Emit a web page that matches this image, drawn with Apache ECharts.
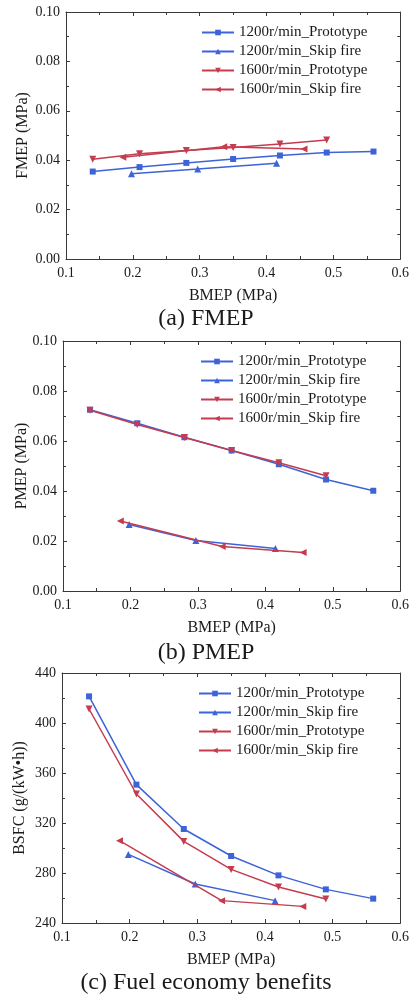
<!DOCTYPE html>
<html>
<head>
<meta charset="utf-8">
<script src="https://cdn.jsdelivr.net/npm/echarts@6/dist/echarts.min.js"></script>
<style>html,body{margin:0;padding:0;background:#fff;}#c{width:412px;height:994px;}</style>
</head>
<body>
<div id="c"></div>
<script>
// ---- data ----
const seriesNames = ['1200r/min_Prototype', '1200r/min_Skip fire', '1600r/min_Prototype', '1600r/min_Skip fire'];
const xTicks = [0.1, 0.2, 0.3, 0.4, 0.5, 0.6];
const fmepTicks = [0.00, 0.02, 0.04, 0.06, 0.08, 0.10];
const pmepTicks = [0.00, 0.02, 0.04, 0.06, 0.08, 0.10];
const bsfcTicks = [240, 280, 320, 360, 400, 440];

const bmepProto1200 = [0.14, 0.21, 0.28, 0.35, 0.42, 0.49, 0.56];
const bmepSkip1200 = [0.198, 0.297, 0.415];
const bmepProto1600 = [0.14, 0.21, 0.28, 0.35, 0.42, 0.49];
const bmepSkip1600 = [0.185, 0.336, 0.456];

const fmepProto1200 = [0.0354, 0.0372, 0.0389, 0.0405, 0.0419, 0.0431, 0.0435];
const fmepSkip1200 = [0.0345, 0.0364, 0.0388];
const fmepProto1600 = [0.0404, 0.0426, 0.0439, 0.0451, 0.0466, 0.0482];
const fmepSkip1600 = [0.0412, 0.0454, 0.0445];

const pmepProto1200 = [0.0725, 0.0671, 0.0615, 0.0562, 0.0507, 0.0446, 0.0401];
const pmepSkip1200 = [0.0266, 0.0202, 0.0170];
const pmepProto1600 = [0.0723, 0.0666, 0.0614, 0.0562, 0.0513, 0.0461];
const pmepSkip1600 = [0.0280, 0.0178, 0.0154];

const bsfcProto1200 = [421.3, 350.7, 315.2, 293.6, 278.1, 266.9, 259.5];
const bsfcSkip1200 = [294.9, 271.2, 257.9];
const bsfcProto1600 = [411.2, 343.2, 305.3, 282.9, 268.8, 259.2];
const bsfcSkip1600 = [305.9, 257.9, 253.3];

const captions = ['(a) FMEP', '(b) PMEP', '(c) Fuel economy benefits'];
const yNames = ['FMEP (MPa)', 'PMEP (MPa)', 'BSFC (g/(kW\u2022h))'];
const xName = 'BMEP (MPa)';

// ---- styling ----
const FONT = '"Liberation Serif", "Times New Roman", serif';
const BLUE = '#3d63d8';
const RED = '#c43c4e';
const AXIS = '#3a3a3a';
const TEXT = '#1a1a1a';

const grids = [
  {left: 66, top: 12, width: 337, height: 247},
  {left: 63, top: 341, width: 342, height: 250},
  {left: 62, top: 673, width: 342, height: 250}
];
const legendPos = [{left: 201, top: 25}, {left: 200, top: 354}, {left: 198, top: 686}];
const captionY = [320, 654, 984];
const yNameGap = [35, 33, 34];
const xNameGap = [29, 29, 29];

const yTickSets = [fmepTicks, pmepTicks, bsfcTicks];
const yFormat = [v => v.toFixed(2), v => v.toFixed(2), v => String(Math.round(v))];

function zip(xs, ys) { return xs.map((x, i) => [x, ys[i]]); }

const xAxes = [], yAxes = [];
grids.forEach((g, gi) => {
  const yt = yTickSets[gi];
  const common = {
    type: 'value', gridIndex: gi, splitLine: {show: false},
    axisLine: {show: true, onZero: false, lineStyle: {color: AXIS, width: 1}},
    axisTick: {show: true, inside: true, length: 4, lineStyle: {color: AXIS}},
    minorTick: {show: true, splitNumber: 2, length: 3, lineStyle: {color: AXIS}},
    splitNumber: 5
  };
  xAxes.push(Object.assign({}, common, {
    position: 'bottom', min: xTicks[0], max: xTicks[xTicks.length - 1], interval: xTicks[1] - xTicks[0],
    axisLabel: {fontFamily: FONT, fontSize: 14, color: TEXT, margin: 7, formatter: v => v.toFixed(1)},
    name: xName, nameLocation: 'middle', nameGap: xNameGap[gi], nameMoveOverlap: false,
    nameTextStyle: {fontFamily: FONT, fontSize: 16, color: TEXT}
  }));
  xAxes.push(Object.assign({}, common, {
    position: 'top', min: xTicks[0], max: xTicks[xTicks.length - 1], interval: xTicks[1] - xTicks[0],
    axisLabel: {show: false}
  }));
  yAxes.push(Object.assign({}, common, {
    position: 'left', min: yt[0], max: yt[yt.length - 1], interval: yt[1] - yt[0],
    axisLabel: {fontFamily: FONT, fontSize: 14, color: TEXT, margin: 6, formatter: yFormat[gi]},
    name: yNames[gi], nameLocation: 'middle', nameGap: yNameGap[gi], nameMoveOverlap: false,
    nameTextStyle: {fontFamily: FONT, fontSize: 16, color: TEXT}
  }));
  yAxes.push(Object.assign({}, common, {
    position: 'right', min: yt[0], max: yt[yt.length - 1], interval: yt[1] - yt[0],
    axisLabel: {show: false}
  }));
});

const panelData = [
  [fmepProto1200, fmepSkip1200, fmepProto1600, fmepSkip1600],
  [pmepProto1200, pmepSkip1200, pmepProto1600, pmepSkip1600],
  [bsfcProto1200, bsfcSkip1200, bsfcProto1600, bsfcSkip1600]
];
const xSets = [bmepProto1200, bmepSkip1200, bmepProto1600, bmepSkip1600];
const colors = [BLUE, BLUE, RED, RED];
const symbols = ['rect', 'triangle', 'triangle', 'triangle'];
const rotates = [0, 0, 180, 90];
const sizes = [6, 7, 7, 7];

const series = [];
panelData.forEach((pd, gi) => {
  pd.forEach((ys, si) => {
    series.push({
      name: seriesNames[si], type: 'line',
      xAxisIndex: gi * 2, yAxisIndex: gi * 2,
      data: zip(xSets[si], ys),
      symbol: symbols[si], symbolRotate: rotates[si], symbolSize: sizes[si],
      showAllSymbol: true,
      lineStyle: {color: colors[si], width: 1.5},
      itemStyle: {color: colors[si]},
      emphasis: {disabled: true},
      animation: false, z: si === 2 || si === 3 ? 3 : 2
    });
  });
});

const legends = legendPos.map(p => ({
  orient: 'vertical', left: p.left, top: p.top, padding: 0,
  data: seriesNames, itemWidth: 32, itemHeight: 7, itemGap: 4,
  textStyle: {fontFamily: FONT, fontSize: 15, color: TEXT},
  selectedMode: false
}));

const graphic = captions.map((c, i) => ({
  type: 'text', left: 'center', top: captionY[i] - 13,
  style: {text: c, font: '24px ' + FONT, fill: TEXT}
}));

const chart = echarts.init(document.getElementById('c'), null, {renderer: 'canvas'});
chart.setOption({
  animation: false,
  backgroundColor: '#fff',
  grid: grids.map(g => Object.assign({containLabel: false}, g)),
  xAxis: xAxes, yAxis: yAxes,
  legend: legends,
  series: series,
  graphic: graphic
});
</script>
</body>
</html>
